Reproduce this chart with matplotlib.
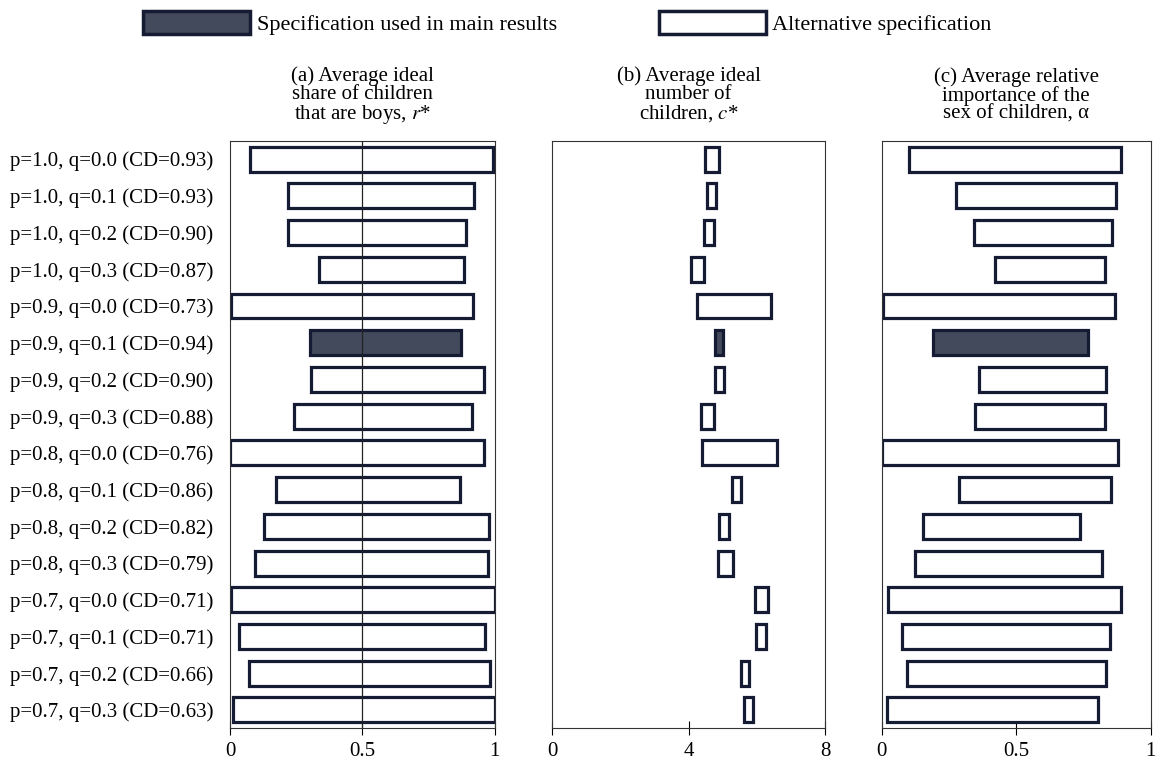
import matplotlib.pyplot as plt
from matplotlib.patches import Patch
import numpy as np

plt.rcParams['font.family'] = ['Liberation Serif', 'DejaVu Serif']
plt.rcParams['mathtext.fontset'] = 'stix'

# specifications (rows top to bottom)
p_vals = [1.0, 1.0, 1.0, 1.0, 0.9, 0.9, 0.9, 0.9, 0.8, 0.8, 0.8, 0.8, 0.7, 0.7, 0.7, 0.7]
q_vals = [0.0, 0.1, 0.2, 0.3] * 4
cd_vals = [0.93, 0.93, 0.90, 0.87, 0.73, 0.94, 0.90, 0.88,
           0.76, 0.86, 0.82, 0.79, 0.71, 0.71, 0.66, 0.63]
main_row = 5

# (a) ideal share of boys r*: lower / upper bounds
r_lo = [0.075, 0.22, 0.22, 0.336, 0.004, 0.302, 0.304, 0.243,
        0.0, 0.174, 0.13, 0.094, 0.004, 0.035, 0.072, 0.01]
r_hi = [0.994, 0.922, 0.89, 0.884, 0.918, 0.873, 0.958, 0.914,
        0.96, 0.868, 0.978, 0.975, 1.0, 0.962, 0.981, 1.0]

# (b) ideal number of children c*
c_lo = [4.49, 4.53, 4.46, 4.08, 4.26, 4.78, 4.78, 4.36,
        4.39, 5.27, 4.90, 4.87, 5.95, 5.98, 5.53, 5.62]
c_hi = [4.90, 4.81, 4.75, 4.44, 6.43, 5.02, 5.05, 4.75,
        6.59, 5.54, 5.18, 5.29, 6.32, 6.27, 5.76, 5.90]

# (c) relative importance of sex of children alpha
a_lo = [0.10, 0.277, 0.344, 0.421, 0.006, 0.192, 0.363, 0.348,
        0.0, 0.289, 0.155, 0.125, 0.024, 0.077, 0.095, 0.02]
a_hi = [0.888, 0.869, 0.857, 0.829, 0.866, 0.768, 0.835, 0.829,
        0.878, 0.851, 0.738, 0.82, 0.89, 0.847, 0.833, 0.802]

labels = [f"p={p:.1f}, q={q:.1f} (CD={cd:.2f})" for p, q, cd in zip(p_vals, q_vals, cd_vals)]

edge = '#141b33'
main_fill = '#434a5c'
fs = 15

fig = plt.figure(figsize=(11.56, 7.65), dpi=100)
bottom, height = 0.048, 0.768
axes = [fig.add_axes([0.199, bottom, 0.229, height]),
        fig.add_axes([0.4777, bottom, 0.236, height]),
        fig.add_axes([0.7627, bottom, 0.2328, height])]

titles = ["(a) Average ideal\nshare of children\nthat are boys, $\\it{r}$*",
          "(b) Average ideal\nnumber of\nchildren, $\\it{c}$*",
          "(c) Average relative\nimportance of the\nsex of children, \u03b1"]
ranges = [(r_lo, r_hi), (c_lo, c_hi), (a_lo, a_hi)]
xlims = [(0, 1), (0, 8), (0, 1)]
xticks = [([0, 0.5, 1], ['0', '0.5', '1']),
          ([0, 4, 8], ['0', '4', '8']),
          ([0, 0.5, 1], ['0', '0.5', '1'])]

y = np.arange(len(labels))
fills = ['white'] * len(labels)
fills[main_row] = main_fill

for ax, title, (lo, hi), xl, (tk, tl) in zip(axes, titles, ranges, xlims, xticks):
    lo = np.array(lo)
    hi = np.array(hi)
    ax.barh(y, hi - lo, left=lo, height=0.68, color=fills,
            edgecolor=edge, linewidth=2.3, zorder=2)
    ax.set_xlim(*xl)
    ax.set_ylim(len(labels) - 0.5, -0.5)
    ax.set_xticks(tk)
    ax.set_xticklabels(tl, fontsize=fs)
    ax.tick_params(axis='x', direction='inout', length=10, width=0.8, pad=5)
    ax.tick_params(axis='y', length=0)
    ax.set_yticks([])
    ax.set_title(title, fontsize=fs, pad=16, linespacing=0.92)
    for s in ax.spines.values():
        s.set_linewidth(0.8)
        s.set_color('#333333')

axes[0].axvline(0.5, color='#222222', linewidth=0.9, zorder=3)
axes[0].set_yticks(y)
axes[0].set_yticklabels(labels, fontsize=fs)
axes[0].tick_params(axis='y', pad=12)

handles = [Patch(facecolor=main_fill, edgecolor=edge, linewidth=2.5),
           Patch(facecolor='white', edgecolor=edge, linewidth=2.5)]
fig.legend(handles, ['Specification used in main results', 'Alternative specification'],
           loc='center', bbox_to_anchor=(0.491, 0.97), ncol=2, frameon=False,
           fontsize=16, handlelength=4.8, handleheight=1.2, handletextpad=0.3,
           columnspacing=4.6)

fig.savefig('out.png', dpi=100)
